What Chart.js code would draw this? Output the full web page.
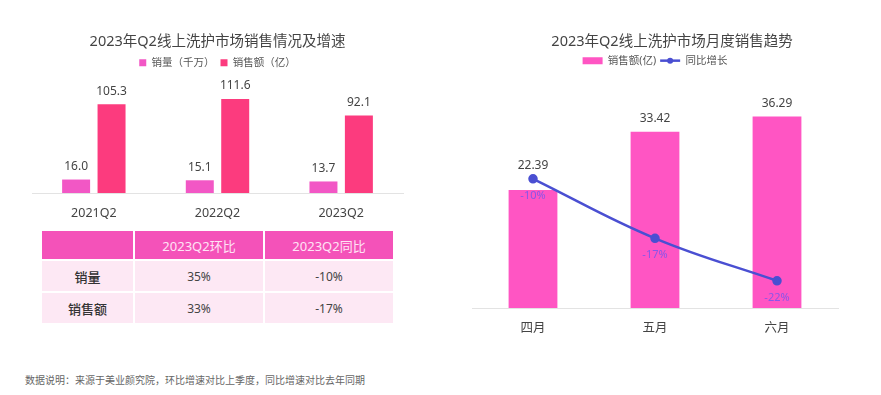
<!DOCTYPE html>
<html>
<head>
<meta charset="utf-8">
<script src="https://cdn.jsdelivr.net/npm/chart.js@4/dist/chart.umd.min.js"></script>
<style>
  html,body{margin:0;padding:0;background:#fff;}
  body{width:881px;height:395px;position:relative;overflow:hidden;font-family:"Noto Sans","Noto Sans CJK SC",sans-serif;}
  #c1wrap{position:absolute;left:0;top:0;width:440px;height:226px;}
  #c2wrap{position:absolute;left:440px;top:0;width:441px;height:341px;}
  table{position:absolute;left:40px;top:229px;width:353px;border-collapse:collapse;table-layout:fixed;}
  td,th{text-align:center;padding:0;border:2px solid #fff;}
  th{background:#f452b9;color:#ffe3f5;font-weight:normal;font-size:13px;height:28px;}
  td{background:#fde8f4;color:#444;font-size:12px;height:30px;}
  td.rl{font-size:13px;color:#333;font-weight:500;}
  #note{position:absolute;left:25px;top:372px;font-size:10px;color:#666;font-family:"Noto Sans CJK SC",sans-serif;}
</style>
</head>
<body>
<div id="c1wrap"><canvas id="c1"></canvas></div>
<div id="c2wrap"><canvas id="c2"></canvas></div>
<table id="tbl"></table>
<div id="note">数据说明：来源于美业颜究院，环比增速对比上季度，同比增速对比去年同期</div>
<script>
// ---- data ----
const quarters = ['2021Q2', '2022Q2', '2023Q2'];
const volume = [16.0, 15.1, 13.7];        // 销量（千万）
const revenue = [105.3, 111.6, 92.1];     // 销售额（亿）
const tableHeaders = ['', '2023Q2环比', '2023Q2同比'];
const tableRowLabels = ['销量', '销售额'];
const qoq = ['35%', '33%'];
const yoy = ['-10%', '-17%'];
const months = ['四月', '五月', '六月'];
const monthRevenue = [22.39, 33.42, 36.29]; // 销售额(亿)
const monthYoY = [-10, -17, -22];           // 同比增长 %

const FONT = '"Noto Sans","Noto Sans CJK SC",sans-serif';

// ---- table ----
(function(){
  const t = document.getElementById('tbl');
  let h = '<colgroup><col style="width:93px"><col style="width:130px"><col style="width:130px"></colgroup><tr>';
  tableHeaders.forEach(x => h += '<th>' + x + '</th>');
  h += '</tr>';
  tableRowLabels.forEach((r, i) => {
    h += '<tr><td class="rl">' + r + '</td><td>' + qoq[i] + '</td><td>' + yoy[i] + '</td></tr>';
  });
  t.innerHTML = h;
})();

// ---- label plugins ----
const barLabels1 = {
  id: 'barLabels1',
  afterDatasetsDraw(chart) {
    const ctx = chart.ctx;
    ctx.save();
    ctx.font = '12px ' + FONT;
    ctx.fillStyle = '#444';
    ctx.textAlign = 'center';
    ctx.textBaseline = 'middle';
    chart.data.datasets.forEach((ds, di) => {
      chart.getDatasetMeta(di).data.forEach((el, i) => {
        ctx.fillText(ds.data[i].toFixed(1), el.x, el.y - 13);
      });
    });
    ctx.restore();
  }
};

const labels2 = {
  id: 'labels2',
  afterDatasetsDraw(chart) {
    const ctx = chart.ctx;
    const barMeta = chart.getDatasetMeta(0);
    const lineMeta = chart.getDatasetMeta(1);
    ctx.save();
    ctx.textAlign = 'center';
    ctx.textBaseline = 'middle';
    barMeta.data.forEach((el, i) => {
      const p = lineMeta.data[i];
      const top = Math.min(el.y, p.y);
      ctx.font = '12px ' + FONT;
      ctx.fillStyle = '#444';
      ctx.fillText(monthRevenue[i].toFixed(2), el.x, top - 13);
    });
    lineMeta.data.forEach((p, i) => {
      ctx.font = '11px ' + FONT;
      ctx.fillStyle = '#8a55e8';
      ctx.fillText(monthYoY[i] + '%', p.x, p.y + 17);
    });
    ctx.restore();
  },
  afterDraw(chart) {
    const lg = chart.legend;
    if (!lg || !lg.legendHitBoxes || !lg.legendItems) return;
    const idx = lg.legendItems.findIndex(it => it.datasetIndex === 1);
    const hb = lg.legendHitBoxes[idx];
    if (!hb) return;
    const ctx = chart.ctx;
    const cy = hb.top + hb.height / 2;
    ctx.save();
    ctx.strokeStyle = '#4a4fd2';
    ctx.lineWidth = 2.5;
    ctx.beginPath();
    ctx.moveTo(hb.left, cy);
    ctx.lineTo(hb.left + 20, cy);
    ctx.stroke();
    ctx.fillStyle = '#4a4fd2';
    ctx.beginPath();
    ctx.arc(hb.left + 10, cy, 3, 0, Math.PI * 2);
    ctx.fill();
    ctx.restore();
  }
};

Chart.defaults.font.family = FONT;
Chart.defaults.animation = false;

// ---- left chart ----
new Chart(document.getElementById('c1'), {
  type: 'bar',
  data: {
    labels: quarters,
    datasets: [
      { label: '销量（千万）', data: volume, backgroundColor: '#f257c5', barPercentage: 0.79, categoryPercentage: 0.573 },
      { label: '销售额（亿）', data: revenue, backgroundColor: '#fc3b7e', barPercentage: 0.79, categoryPercentage: 0.573 }
    ]
  },
  options: {
    responsive: true,
    maintainAspectRatio: false,
    layout: { padding: { left: 32, right: 37, top: 0, bottom: 0 } },
    plugins: {
      title: { display: true, text: '2023年Q2线上洗护市场销售情况及增速', color: '#444', font: { size: 14.5, weight: 'normal' }, padding: { top: 33, bottom: 1 } },
      legend: { labels: { boxWidth: 7, boxHeight: 7, color: '#555', font: { size: 10.5 }, padding: 6 } },
      tooltip: { enabled: false }
    },
    scales: {
      x: { grid: { display: false }, border: { color: '#e3e3e3' }, ticks: { color: '#444', font: { size: 12.5 }, padding: 5 } },
      y: { display: false, min: 0, max: 136.7 }
    }
  },
  plugins: [barLabels1]
});

// ---- right chart ----
new Chart(document.getElementById('c2'), {
  data: {
    labels: months,
    datasets: [
      { type: 'bar', label: '销售额(亿)', data: monthRevenue, backgroundColor: '#ff55c3', barPercentage: 0.8, categoryPercentage: 0.5, yAxisID: 'y', order: 2 },
      { type: 'line', label: '同比增长', data: monthYoY, borderColor: '#4a4fd2', backgroundColor: '#4a4fd2', borderWidth: 2.5, pointRadius: 3.5, pointBackgroundColor: '#4a4fd2', tension: 0.4, yAxisID: 'y2', order: 1 }
    ]
  },
  options: {
    responsive: true,
    maintainAspectRatio: false,
    layout: { padding: { left: 32, right: 9, top: 0, bottom: 0 } },
    plugins: {
      title: { display: true, text: '2023年Q2线上洗护市场月度销售趋势', color: '#444', font: { size: 14.5, weight: 'normal' }, padding: { top: 33, bottom: 1 } },
      legend: {
        fullSize: false,
        labels: {
          boxWidth: 20, boxHeight: 7, color: '#555', font: { size: 10.5 }, padding: 4,
          sort: (a, b) => a.datasetIndex - b.datasetIndex,
          generateLabels(chart) {
            const base = Chart.defaults.plugins.legend.labels.generateLabels(chart);
            base.forEach(l => {
              l.lineWidth = 0;
              if (l.datasetIndex === 1) { l.fillStyle = 'rgba(0,0,0,0)'; l.strokeStyle = 'rgba(0,0,0,0)'; }
            });
            return base;
          }
        }
      },
      tooltip: { enabled: false }
    },
    scales: {
      x: { grid: { display: false }, border: { color: '#e3e3e3' }, ticks: { color: '#444', font: { size: 12.5 }, padding: 5 } },
      y: { display: false, min: 0, max: 44.0 },
      y2: {
        display: true, position: 'right', min: -25.2, max: 2.1,
        grid: { display: false, drawTicks: false }, border: { display: false }, ticks: { display: false },
        afterFit(scale) { scale.width = 34; }
      }
    }
  },
  plugins: [labels2]
});
</script>
</body>
</html>
